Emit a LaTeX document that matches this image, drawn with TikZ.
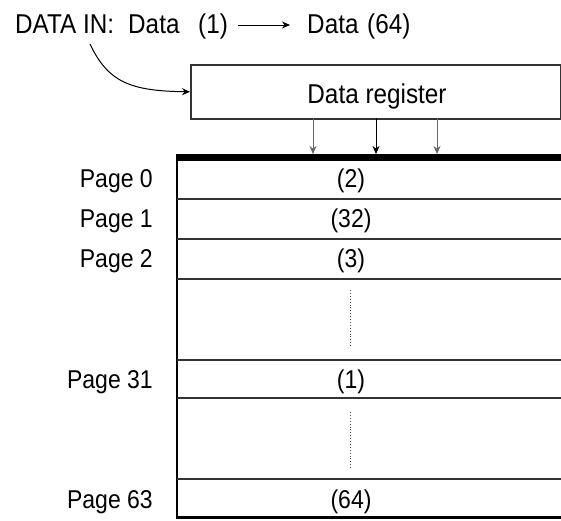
\documentclass[tikz,border=0pt]{standalone}
\usepackage{fontspec}
\setmainfont{Liberation Sans}
\usetikzlibrary{arrows.meta}
\newcommand{\tallt}[1]{\scalebox{1}[1.12]{#1}}
\begin{document}
\begin{tikzpicture}[x=1pt,y=-1pt,
  txt/.style={font=\fontsize{24.3}{28}\selectfont, inner sep=0pt},
  smalltxt/.style={font=\fontsize{23}{27}\selectfont, inner sep=0pt},
  lbl/.style={smalltxt, anchor=base east},
  cell/.style={smalltxt, anchor=base},
  rowline/.style={line width=1.6pt, draw=black!80},
  tip/.style={-{Stealth[length=8pt,width=7pt]}},
  dots/.style={dotted, line width=0.9pt, draw=black!70}]
\useasboundingbox (0,0) rectangle (561,520);
% header
\node[txt, anchor=base west] (din) at (15,33) {\tallt{DATA IN:}};
\node[txt, anchor=base west] (dd1) at (128,33) {\tallt{Data}};
\node[txt, anchor=base west] (d1) at (198,33) {\tallt{(1)}};
\node[txt, anchor=base west] (d64) at (307,33) {\tallt{Data}};
\node[txt, anchor=base west] (d64n) at (367,33) {\tallt{(64)}};
\coordinate (a1) at (238,25);
\coordinate (a2) at (290,25);
\draw[tip, line width=1pt] (a1) -- (a2);
% data register
\node[draw=black!80, line width=1.6pt, minimum width=370pt, minimum height=54pt, inner sep=0pt, anchor=north west] (reg) at (190,64) {};
\node[txt, anchor=base] (regt) at (377,103) {\tallt{Data register}};
\coordinate (c0) at (90,44);
\draw[tip, line width=1pt] (c0) .. controls (108,82) and (130,91) .. (reg.west);
% page bus bar
\coordinate (barL) at (177,157.5);
\coordinate (barR) at (565,157.5);
\draw[line width=7pt] (barL) -- (barR);
\foreach \x/\c in {313/black!60,376/black,437/black!60}{
  \draw[tip, line width=1pt, draw=\c, fill=\c] (\x,118) -- (\x,154);
}
% table
\draw[line width=1.8pt] (177,154) -- (177,519);
\foreach \y in {199,239,279,360,398,479}{
  \draw[rowline] (177,\y) -- (565,\y);
}
\draw[line width=3pt] (177,517.5) -- (565,517.5);
% labels
\node[lbl] (p0) at (153,187) {\tallt{Page 0}};
\node[lbl] (p1) at (153,227) {\tallt{Page 1}};
\node[lbl] (p2) at (153,267) {\tallt{Page 2}};
\node[lbl] (p31) at (153,388) {\tallt{Page 31}};
\node[lbl] (p63) at (153,508) {\tallt{Page 63}};
\node[cell] (v0) at (351,187) {\tallt{(2)}};
\node[cell] (v1) at (351,227) {\tallt{(32)}};
\node[cell] (v2) at (351,267) {\tallt{(3)}};
\node[cell] (v31) at (351,388) {\tallt{(1)}};
\node[cell] (v63) at (351,508) {\tallt{(64)}};
\draw[dots] (350,290) -- (350,347);
\draw[dots] (350,412) -- (350,468);
\end{tikzpicture}
\end{document}
